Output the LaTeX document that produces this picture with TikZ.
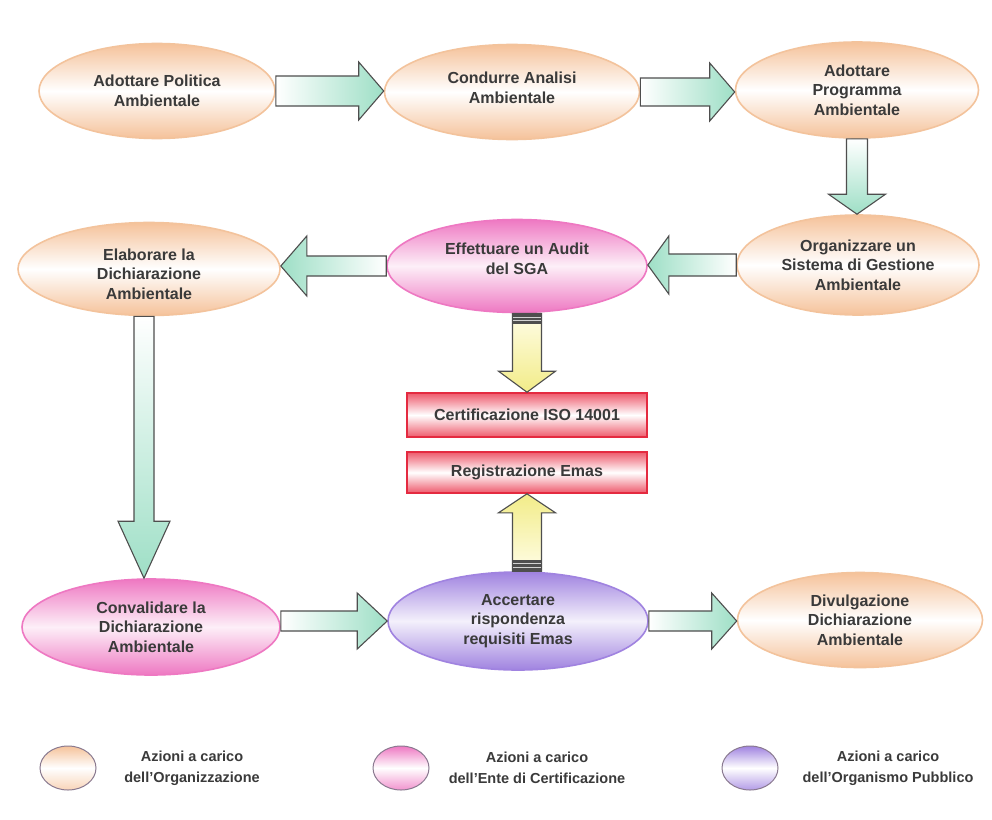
\documentclass[tikz,border=0pt]{standalone}
\usepackage{fontspec}
\setmainfont{Liberation Sans}
\usetikzlibrary{shapes.geometric,calc}
\definecolor{peach}{HTML}{F5C29A}
\definecolor{peachline}{HTML}{F3C39C}
\definecolor{pinkc}{HTML}{EE78C2}
\definecolor{purplec}{HTML}{A083E0}
\definecolor{mint}{HTML}{9EDFC6}
\definecolor{yel}{HTML}{F2EC88}
\definecolor{yellight}{HTML}{FFFDE6}
\definecolor{redc}{HTML}{E42A40}
\definecolor{redfill}{HTML}{EE5A6C}
\definecolor{txt}{HTML}{3A3A3A}
\definecolor{outl}{HTML}{4E4E4E}
\definecolor{legline}{HTML}{8A7A90}

\newcommand\blkH[6]{\path[#1] let \p1=(#2), \p2=(#3), \n1={ifthenelse(\x2>\x1,1,-1)} in
  (\x1,\y1+#4) -- (\x2-\n1*#6,\y1+#4) -- (\x2-\n1*#6,\y1+#5) -- (\x2,\y1)
  -- (\x2-\n1*#6,\y1-#5) -- (\x2-\n1*#6,\y1-#4) -- (\x1,\y1-#4) -- cycle;}
\newcommand\blkV[6]{\path[#1] let \p1=(#2), \p2=(#3), \n1={ifthenelse(\y2>\y1,1,-1)} in
  (\x1+#4,\y1) -- (\x1+#4,\y2-\n1*#6) -- (\x1+#5,\y2-\n1*#6) -- (\x1,\y2)
  -- (\x1-#5,\y2-\n1*#6) -- (\x1-#4,\y2-\n1*#6) -- (\x1-#4,\y1) -- cycle;}

\tikzset{
  lbl/.style={font=\bfseries\fontsize{16}{19.5}\selectfont, text=txt, align=center},
  oval/.style={ellipse, inner sep=0pt, lbl, line width=1.6pt},
  orgoval/.style={oval, draw=peachline, top color=peach, bottom color=peach, middle color=white},
  entoval/.style={oval, draw=pinkc, top color=pinkc, bottom color=pinkc, middle color=pinkc!12},
  puboval/.style={oval, draw=purplec, top color=purplec, bottom color=purplec, middle color=purplec!12},
  redbox/.style={rectangle, inner sep=0pt, lbl, draw=redc, line width=1.6pt,
     top color=redfill, bottom color=redfill, middle color=white},
  gR/.style={draw=outl, line width=1.1pt, left color=white, right color=mint},
  gL/.style={draw=outl, line width=1.1pt, left color=mint, right color=white},
  gD/.style={draw=outl, line width=1.1pt, top color=white, bottom color=mint},
  yD/.style={draw=outl, line width=1.1pt, top color=yellight, bottom color=yel},
  yU/.style={draw=outl, line width=1.1pt, top color=yel, bottom color=yellight},
  legoval/.style={ellipse, inner sep=0pt, minimum width=56pt, minimum height=44pt, draw=legline, line width=1pt},
  legtxt/.style={font=\bfseries\fontsize{14.5}{21}\selectfont, text=txt, align=center},
}

\begin{document}
\begin{tikzpicture}[x=1pt,y=-1pt]
\useasboundingbox[fill=white] (0,0) rectangle (992,819);

% row 1
\node[orgoval, minimum width=236pt, minimum height=95pt] (E1) at (157,91) {Adottare Politica\\Ambientale};
\node[orgoval, minimum width=255pt, minimum height=95pt,
      label={[lbl, yshift=4pt]center:Condurre Analisi\\Ambientale}] (E2) at (512,92) {};
\node[orgoval, minimum width=243pt, minimum height=96pt] (E3) at (857,90) {Adottare\\Programma\\Ambientale};
% row 2
\node[orgoval, minimum width=242pt, minimum height=100pt] (E4) at (858,265) {Organizzare un\\Sistema di Gestione\\Ambientale};
\node[entoval, minimum width=260pt, minimum height=93pt,
      label={[lbl, yshift=7pt]center:Effettuare un Audit\\del SGA}] (E5) at (517,266) {};
\node[orgoval, minimum width=262pt, minimum height=93pt,
      label={[lbl, yshift=-5pt]center:Elaborare la\\Dichiarazione\\Ambientale}] (E6) at (149,269) {};
% row 3
\node[entoval, minimum width=258pt, minimum height=96pt] (E7) at (151,627) {Convalidare la\\Dichiarazione\\Ambientale};
\node[puboval, minimum width=260pt, minimum height=98pt] (E8) at (518,621) {Accertare\\rispondenza\\requisiti Emas};
\node[orgoval, minimum width=245pt, minimum height=95pt] (E9) at (860,620) {Divulgazione\\Dichiarazione\\Ambientale};

% red boxes
\node[redbox, minimum width=240pt, minimum height=44pt] (B1) at (527,415) {Certificazione ISO 14001};
\node[redbox, minimum width=240pt, minimum height=41pt] (B2) at (527,472.5) {Registrazione Emas};

% green arrows
\blkH{gR}{E1.east}{E2.west}{15pt}{29pt}{25pt}
\blkH{gR}{E2.east}{E3.west}{14pt}{29pt}{25pt}
\blkV{gD}{E3.south}{E4.north}{10.5pt}{28.5pt}{20pt}
\blkH{gL}{E4.west}{E5.east}{11pt}{29pt}{21pt}
\blkH{gL}{E5.west}{E6.east}{10pt}{30pt}{26pt}
\blkV{gD}{[xshift=-5pt]E6.south}{E7.north}{10pt}{26pt}{57pt}
\blkH{gR}{E7.east |- E8.west}{E8.west}{10pt}{28pt}{30pt}
\blkH{gR}{E8.east}{E9.west}{10pt}{28pt}{25pt}

% yellow arrows
\blkV{yD}{B1.north |- E5.south}{B1.north}{14.5pt}{28.5pt}{21pt}
\blkV{yU}{B2.south |- E8.north}{B2.south}{14.5pt}{28.5pt}{19pt}
\fill[outl] let \p1=(B1.north |- E5.south) in (\x1-14.5pt,\y1) rectangle (\x1+14.5pt,\y1-11pt);
\draw[gray!35, line width=1pt] let \p1=(B1.north |- E5.south) in
  (\x1-14pt,\y1-4pt) -- (\x1+14pt,\y1-4pt) (\x1-14pt,\y1-7.5pt) -- (\x1+14pt,\y1-7.5pt);
\fill[outl] let \p1=(B2.south |- E8.north) in (\x1-14.5pt,\y1) rectangle (\x1+14.5pt,\y1+11pt);
\draw[gray!35, line width=1pt] let \p1=(B2.south |- E8.north) in
  (\x1-14pt,\y1+4pt) -- (\x1+14pt,\y1+4pt) (\x1-14pt,\y1+7.5pt) -- (\x1+14pt,\y1+7.5pt);

% legend
\node[legoval, top color=peach, bottom color=peach!70, middle color=white] (L1) at (68,768) {};
\node[legtxt] (T1) at (192,768) {Azioni a carico\\dell’Organizzazione};
\node[legoval, top color=pinkc, bottom color=pinkc!80, middle color=white] (L2) at (401,768) {};
\node[legtxt] (T2) at (537,768) {Azioni a carico\\dell’Ente di Certificazione};
\node[legoval, top color=purplec, bottom color=purplec!80, middle color=white] (L3) at (750,768) {};
\node[legtxt] (T3) at (888,768) {Azioni a carico\\dell’Organismo Pubblico};
\end{tikzpicture}
\end{document}
